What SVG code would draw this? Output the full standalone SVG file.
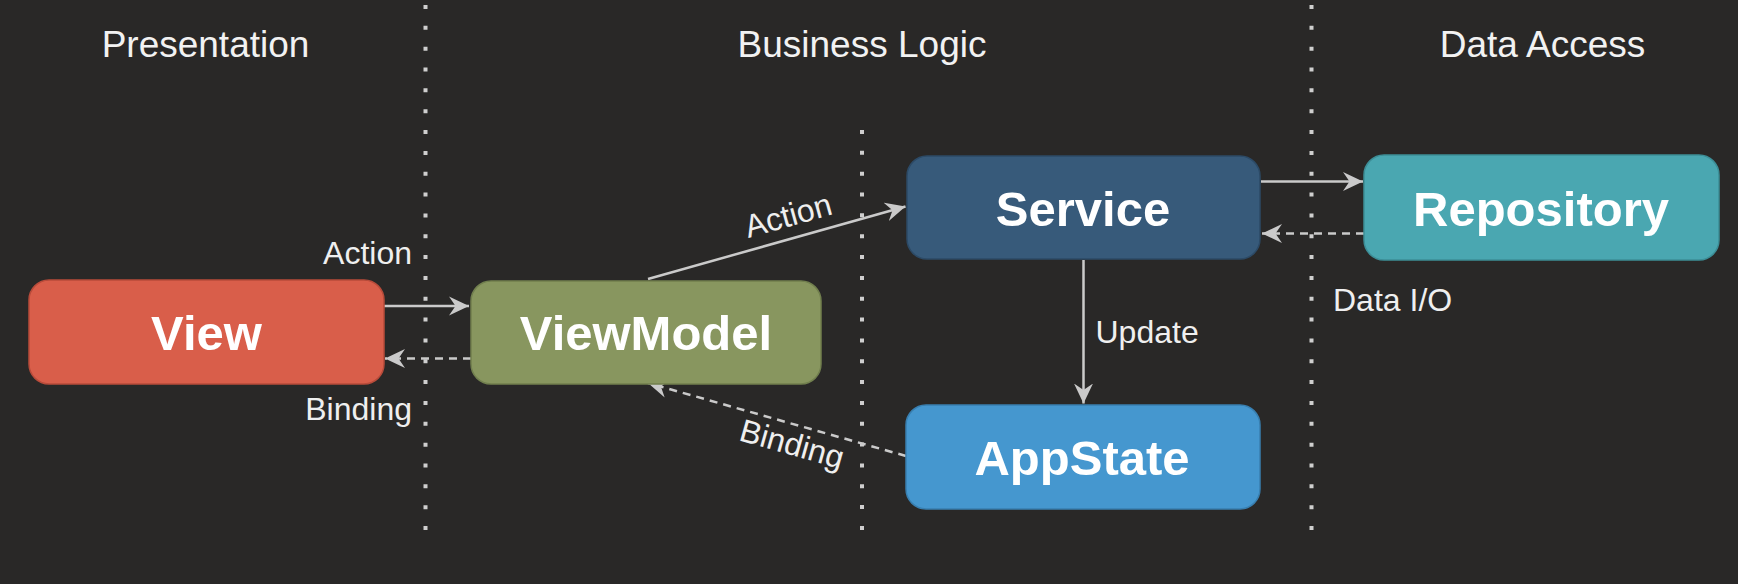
<svg xmlns="http://www.w3.org/2000/svg" width="1738" height="584" viewBox="0 0 1738 584">
  <style>
    .hdr { font-family: "Liberation Sans", Arial, sans-serif; font-size: 37px; fill: #f2f2f2; text-anchor: middle; }
    .node rect { stroke-width: 1.5; }
    .node text { font-family: "Liberation Sans", Arial, sans-serif; font-size: 49px; font-weight: bold; fill: #ffffff; text-anchor: middle; }
    .lbl { font-family: "Liberation Sans", Arial, sans-serif; font-size: 32px; fill: #efefef; }
    .sep { stroke: #cfcfcf; stroke-width: 4; stroke-dasharray: 4 16.84; }
    .edge { stroke: #cacaca; stroke-width: 2.5; fill: none; marker-end: url(#arr); }
    .dash { stroke-dasharray: 8 6; }
  </style>
  <defs>
    <marker id="arr" markerUnits="userSpaceOnUse" markerWidth="22" markerHeight="22" refX="20" refY="10" orient="auto">
      <path d="M0,0.5 L20,10 L0,19.5 L6.5,10 Z" fill="#cacaca"/>
    </marker>
  </defs>
  <rect x="0" y="0" width="1738" height="584" fill="#292827"/>

  <g id="separators">
    <line class="sep" x1="425.5" y1="5" x2="425.5" y2="531"/>
    <line class="sep" x1="862" y1="130" x2="862" y2="531"/>
    <line class="sep" x1="1311.5" y1="5" x2="1311.5" y2="531"/>
  </g>

  <g id="headers">
    <text class="hdr" x="205.5" y="57">Presentation</text>
    <text class="hdr" x="862" y="57">Business Logic</text>
    <text class="hdr" x="1542.5" y="57">Data Access</text>
  </g>

  <g id="connectors">
    <line class="edge" x1="384" y1="306" x2="469" y2="306"/>
    <line class="edge dash" x1="471" y1="358.5" x2="385" y2="358.5"/>
    <line class="edge" x1="648" y1="279" x2="905.5" y2="206.5"/>
    <line class="edge dash" x1="906" y1="456" x2="648" y2="383"/>
    <line class="edge" x1="1261" y1="181.5" x2="1363" y2="181.5"/>
    <line class="edge dash" x1="1364" y1="233.5" x2="1262" y2="233.5"/>
    <line class="edge" x1="1083.5" y1="260" x2="1083.5" y2="403.5"/>
    <text class="lbl" x="412" y="264" text-anchor="end">Action</text>
    <text class="lbl" x="412" y="420" text-anchor="end">Binding</text>
    <text class="lbl" x="791" y="226" text-anchor="middle" transform="rotate(-15.5 791 226)">Action</text>
    <text class="lbl" x="789" y="454.5" text-anchor="middle" transform="rotate(15.8 789 454.5)">Binding</text>
    <text class="lbl" x="1095.5" y="342.5">Update</text>
    <text class="lbl" x="1333" y="311">Data I/O</text>
  </g>

  <g id="view" class="node">
    <rect x="29" y="280" width="355" height="104" rx="20" fill="#d95e4a" stroke="#b84b3a"/>
    <text x="206.5" y="350">View</text>
  </g>
  <g id="viewmodel" class="node">
    <rect x="471" y="281" width="350" height="103" rx="20" fill="#88965f" stroke="#717f4e"/>
    <text x="646" y="350">ViewModel</text>
  </g>
  <g id="service" class="node">
    <rect x="907" y="156" width="353" height="103" rx="20" fill="#375a7a" stroke="#2c4a66"/>
    <text x="1083" y="225.5">Service</text>
  </g>
  <g id="repository" class="node">
    <rect x="1364" y="155" width="355" height="105" rx="20" fill="#4aa7b1" stroke="#3c8e97"/>
    <text x="1541" y="225.5">Repository</text>
  </g>
  <g id="appstate" class="node">
    <rect x="906" y="405" width="354" height="104" rx="20" fill="#4597cf" stroke="#387fb0"/>
    <text x="1082" y="475">AppState</text>
  </g>
</svg>
